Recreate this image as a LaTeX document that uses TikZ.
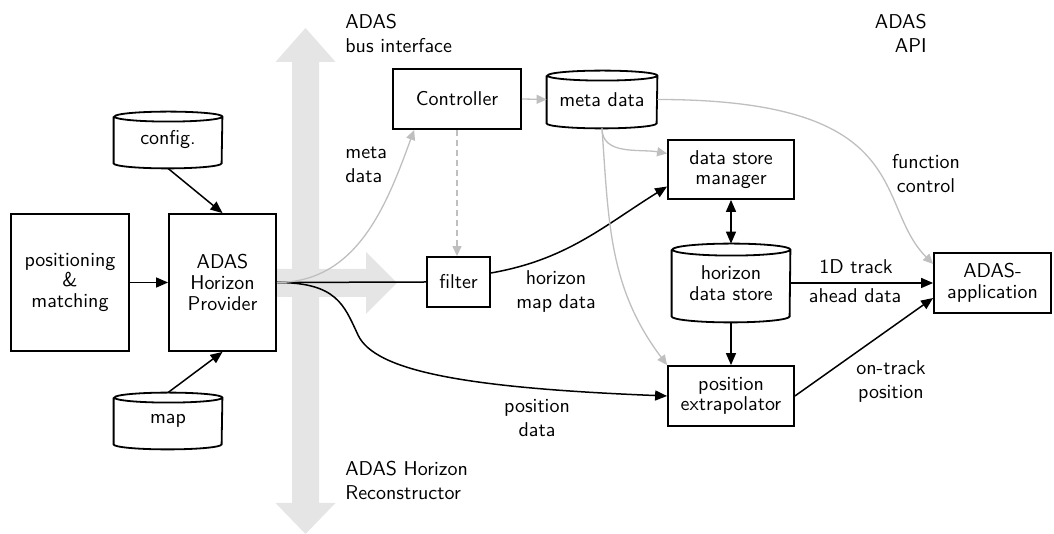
\documentclass[tikz,border=0pt]{standalone}
\usetikzlibrary{arrows.meta,calc}
\begin{document}
\begin{tikzpicture}[x=0.5pt,y=0.5pt,
  txt/.style={font=\sffamily\fontsize{10}{12}\selectfont},
  box/.style={draw,line width=0.9pt,fill=white,inner sep=0pt,align=center,
    font=\sffamily\fontsize{10}{10.3}\selectfont},
  drumnode/.style={inner sep=0pt,align=center,font=\sffamily\fontsize{10}{10.3}\selectfont},
  blk/.style={line width=0.75pt,-{Triangle[length=6pt,width=5pt]}},
  gry/.style={draw=black!25,line width=0.65pt,-{Triangle[length=5pt,width=4.5pt]}},
  lbl/.style={txt,inner sep=0pt}]

\useasboundingbox (0,0) rectangle (1054,534);

% bus: vertical double arrow with branch to the right
\fill[black!10] (305.5,506) -- (335.5,472) -- (319,472) -- (319,265) -- (366,265)
  -- (366,282) -- (397,251) -- (366,220) -- (366,237) -- (319,237) -- (319,31)
  -- (335.5,31) -- (305.5,0) -- (275.5,31) -- (292,31) -- (292,237) -- (270,237)
  -- (270,265) -- (292,265) -- (292,472) -- (275.5,472) -- cycle;

% boxes
\node[box,minimum width=59pt,minimum height=68.5pt] (pos) at (70,251.5) {positioning\\\&\\matching};
\node[box,minimum width=53.5pt,minimum height=68.5pt] (prov) at (222.5,251.5) {ADAS\\Horizon\\Provider};
\node[box,minimum width=64pt,minimum height=30pt] (ctrl) at (457,435) {Controller};
\node[box,minimum width=31.5pt,minimum height=25pt] (filter) at (458.5,252) {filter};
\node[box,minimum width=63pt,minimum height=29.5pt] (dsm) at (731,364.5) {data store\\manager};
\node[box,minimum width=63pt,minimum height=30pt] (pe) at (731,138) {position\\extrapolator};
\node[box,minimum width=58.5pt,minimum height=30pt] (app) at (992.5,251) {ADAS-\\application};

% drums
\node[drumnode,minimum width=54pt,minimum height=28pt] (config) at (168,394) {config.};
\node[drumnode,minimum width=54pt,minimum height=28pt] (map) at (168,113) {map};
\node[drumnode,minimum width=55pt,minimum height=28.5pt] (meta) at (602,434.5) {meta data};
\node[drumnode,minimum width=59pt,minimum height=39pt] (hds) at (731,251) {horizon\\data store};

\newcommand\drum[3]{% node, half width, ellipse half height
  \draw[line width=0.9pt] ([yshift=-#3]#1.north west) -- ([yshift=#3]#1.south west)
    arc[start angle=180,end angle=360,x radius=#2,y radius=#3]
    -- ([yshift=-#3]#1.north east)
    arc[start angle=0,end angle=360,x radius=#2,y radius=#3];}
\drum{config}{27pt}{2.5pt}
\drum{map}{27pt}{2.5pt}
\drum{meta}{27.5pt}{2.5pt}
\drum{hds}{29.5pt}{3pt}

% labels
\node[lbl,align=left,anchor=west] at (345,501) {ADAS\\bus interface};
\node[lbl,align=right,anchor=east] at (927,501) {ADAS\\API};
\node[lbl,align=left,anchor=west] at (345,54) {ADAS Horizon\\Reconstructor};
\node[lbl,align=left,anchor=west] at (345,369) {meta\\data};
\node[lbl,align=center] at (556,242) {horizon\\map data};
\node[lbl,align=center] at (537,116) {position\\data};
\node[lbl,align=center] at (926,360.5) {function\\control};
\node[lbl] at (856,267) {1D track};
\node[lbl] at (855,238) {ahead data};
\node[lbl,align=center] at (891,152.5) {on-track\\position};

% bend point of the position data line
\coordinate (bend) at (358,199);

% black connectors
\draw[blk] (pos.east) -- (prov.west);
\draw[blk] (config.south) -- (prov.north);
\draw[blk] (map.north) -- (prov.south);
\draw[line width=0.75pt] (prov.east) -- (filter.west);
\draw[blk] ($(filter.east)+(0,9)$) to[out=10,in=212] ($(dsm.west)+(0,-17)$);
\draw[blk] (prov.east) .. controls +(60,0) and +(-14,30) .. (bend)
  .. controls +(17,-36.4) and +(-200,8) .. (pe.west);
\draw[line width=0.75pt,{Triangle[length=6pt,width=5pt]}-{Triangle[length=6pt,width=5pt]}] (dsm.south) -- (hds.north);
\draw[blk] (hds.south) -- (pe.north);
\draw[blk] (hds.east) -- (hds.east -| app.west);
\draw[blk] (pe.east) -- ($(app.west)+(0,-15)$);

% grey connectors
\draw[gry] (prov.east) to[out=0,in=250] ($(ctrl.south west)+(22,0)$);
\draw[gry] (ctrl.east) -- (meta.west);
\draw[gry,dash pattern=on 3pt off 2pt] (ctrl.south) -- (ctrl.south |- filter.north);
\draw[gry] (meta.south) to[out=-90,in=170] ($(dsm.west)+(0,16)$);
\draw[gry] (meta.south) to[out=-86,in=127] (pe.north west);
\draw[gry] (meta.east) .. controls +(260,0) and +(-60,60) .. ($(app.west)+(0,19)$);
\end{tikzpicture}
\end{document}
